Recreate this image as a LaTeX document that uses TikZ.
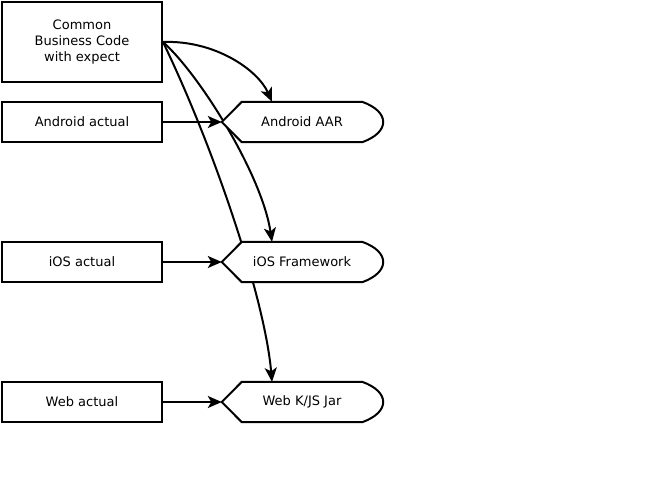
\documentclass[tikz,border=0pt]{standalone}
\usepackage{fontspec}
\setmainfont{DejaVu Sans}
\usetikzlibrary{arrows.meta}
\pgfdeclarelayer{bg}
\pgfdeclarelayer{mid}
\pgfsetlayers{bg,mid,main}
\tikzset{
  box/.style={draw,line width=2pt,minimum width=160pt,minimum height=40pt,inner sep=0pt,font=\fontsize{13}{16}\selectfont,align=center},
  outnode/.style={minimum width=160pt,minimum height=40pt,inner sep=0pt,font=\fontsize{13}{16}\selectfont},
  outline/.style={draw,fill=white,line width=2pt,line join=miter},
  arr/.style={line width=2pt,-{Stealth[length=14pt,width=12pt,inset=3.5pt]}},
}
\newcommand{\dispshape}[1]{%
  \draw[outline] (#1.west) -- ([xshift=20pt]#1.north west) -- ([xshift=-20pt]#1.north east)
    .. controls +(28,10) and +(28,-10) .. ([xshift=-20pt]#1.south east) -- ([xshift=20pt]#1.south west) -- cycle;}
\begin{document}
\begin{tikzpicture}[x=1pt,y=-1pt]
\useasboundingbox (0,0) rectangle (645,483);
\node[box,minimum height=80pt] (common) at (82,42) {Common\\Business Code\\with expect};
\node[box] (aa) at (82,122) {Android actual};
\node[box] (ia) at (82,262) {iOS actual};
\node[box] (wa) at (82,402) {Web actual};
\node[outnode] (aar) at (302,122) {Android AAR};
\node[outnode] (ios) at (302,262) {iOS Framework};
\node[outnode] (web) at (302,402) {Web K/JS Jar};
\begin{pgfonlayer}{mid}
\dispshape{aar}
\dispshape{ios}
\dispshape{web}
\end{pgfonlayer}
\begin{pgfonlayer}{bg}
\draw[arr] (common.east) .. controls (215,40) and (258,70) .. ([xshift=-30pt]aar.north);
\draw[arr] (common.east) .. controls (200,75) and (262,175) .. ([xshift=-30pt]ios.north);
\draw[arr] (common.east) .. controls (215,150) and (265,300) .. ([xshift=-30pt]web.north);
\end{pgfonlayer}
\draw[arr] (aa.east) -- (aar.west);
\draw[arr] (ia.east) -- (ios.west);
\draw[arr] (wa.east) -- (web.west);
\end{tikzpicture}
\end{document}
